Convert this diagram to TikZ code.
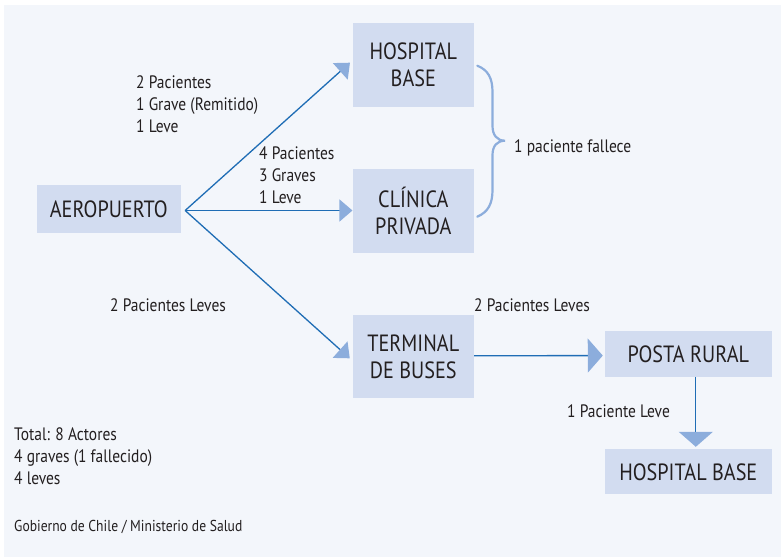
\documentclass[tikz,border=0pt]{standalone}
\usepackage{fontspec}
\setmainfont{PT Sans}[FakeStretch=0.86]
\usetikzlibrary{arrows.meta,calc}
\definecolor{bg}{HTML}{F3F6FB}
\definecolor{boxfill}{HTML}{D2DCF0}
\definecolor{linec}{HTML}{1F6DB5}
\definecolor{headc}{HTML}{8CADDC}
\definecolor{txt}{HTML}{231F20}
\begin{document}
\begin{tikzpicture}[x=1pt,y=-1pt,
  box/.style={fill=boxfill, inner sep=0pt, align=center, text=txt,
    font=\fontsize{23.5}{26.7}\selectfont},
  lbl/.style={inner sep=0pt, align=left, text=txt,
    font=\fontsize{18}{22}\selectfont},
  conn/.style={draw=linec, line width=1.3pt,
    -{Triangle[length=13pt,width=22pt,color=headc]}},
  connbig/.style={draw=linec, line width=1.3pt,
    -{Triangle[length=15pt,width=34pt,color=headc]}},
  bracestyle/.style={draw=headc, line width=2.2pt, line cap=round},
]
\fill[white] (0,0) rectangle (781,557);
\fill[bg] (3.5,5) rectangle (781,557);
\useasboundingbox (0,0) rectangle (781,557);

% boxes
\node[box, minimum width=121.3pt, minimum height=83.3pt] (hb1) at (413.3,65) {HOSPITAL\\BASE};
\node[box, minimum width=121.3pt, minimum height=83.7pt] (cp) at (413.3,210.8) {CLÍNICA\\PRIVADA};
\node[box, minimum width=144.3pt, minimum height=48.3pt] (aero) at (108.8,209.2) {AEROPUERTO};
\node[box, minimum width=121.3pt, minimum height=83.3pt] (tb) at (413.3,356.7) {TERMINAL\\DE BUSES};
\node[box, minimum width=166.7pt, minimum height=45.7pt] (pr) at (688.3,353.8) {POSTA RURAL};
\node[box, minimum width=166.7pt, minimum height=45pt] (hb2) at (688.3,471.8) {HOSPITAL BASE};

% connectors
\coordinate (src) at ($(aero.east)+(4,1.3)$);
\draw[conn] (src) -- ($(hb1.west)+(-2.5,-2.3)$);
\draw[conn] (src) -- (src -| cp.west);
\draw[conn] (src) -- ($(tb.west)+(-2.7,1.6)$);
\draw[connbig] ($(tb.east)+(0,-1)$) -- ($(pr.west)+(-2,1.8)$);
\draw[connbig] ($(pr.south)+(7.5,0)$) -- ($(hb2.north)+(7.5,-2.3)$);

% brace
\draw[bracestyle] (477.3,65.7) .. controls (488,70) and (492.5,78) .. (492.5,92)
  -- (492.5,126) .. controls (492.5,135) and (497,140.7) .. (505,140.7)
  .. controls (497,140.7) and (492.5,146) .. (492.5,155)
  -- (492.5,190) .. controls (492.5,204) and (488,212) .. (477.3,216.7);

% labels
\node[lbl, anchor=west] (l1) at (136,104.3) {2 Pacientes\\1 Grave (Remitido)\\1 Leve};
\node[lbl, anchor=west] (l2) at (259,175.2) {4 Pacientes\\3 Graves\\1 Leve};
\node[lbl, anchor=base west] (l3) at (514,152.5) {1 paciente fallece};
\node[lbl, anchor=base west] (l4) at (110,311.7) {2 Pacientes Leves};
\node[lbl, anchor=base west] (l5) at (474,311.7) {2 Pacientes Leves};
\node[lbl, anchor=base west] (l6) at (567,417.7) {1 Paciente Leve};
\node[lbl, anchor=west] (l7) at (14,456) {Total: 8 Actores\\4 graves (1 fallecido)\\4 leves};
\node[lbl, anchor=base west, font=\fontsize{15.8}{20}\selectfont] (l8) at (14,531) {Gobierno de Chile / Ministerio de Salud};
\end{tikzpicture}
\end{document}
